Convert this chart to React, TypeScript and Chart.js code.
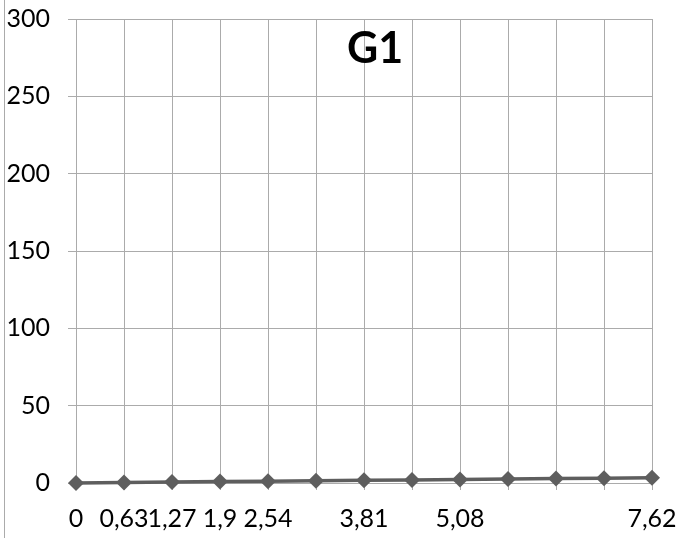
import React, { useEffect, useRef } from "react";
import { Chart, registerables } from "chart.js";

Chart.register(...registerables);

const title = "G1";
const categories = ["0", "0,63", "1,27", "1,9", "2,54", "3,17", "3,81", "4,45", "5,08", "5,72", "6,35", "6,99", "7,62"];
const shownLabels = ["0", "0,63", "1,27", "1,9", "2,54", "", "3,81", "", "5,08", "", "", "", "7,62"];
const seriesValues = [0, 0.3, 0.6, 0.9, 1.2, 1.4, 1.7, 2.0, 2.3, 2.6, 2.9, 3.1, 3.4];
const yMin = 0;
const yMax = 300;
const yStep = 50;

const GRID = "#ababab";
const SERIES = "#5e5e5e";
const FONT = "Lato, 'Liberation Sans', sans-serif";

export default function App() {
  const ref = useRef<HTMLCanvasElement | null>(null);

  useEffect(() => {
    if (!ref.current) return;
    const overlay = {
      id: "overlay",
      beforeDraw(chart: any) {
        const ctx = chart.ctx;
        ctx.save();
        ctx.strokeStyle = GRID;
        ctx.lineWidth = 1;
        ctx.beginPath();
        ctx.moveTo(4.5, 0);
        ctx.lineTo(4.5, chart.height);
        ctx.stroke();
        ctx.restore();
      },
      afterDraw(chart: any) {
        const ctx = chart.ctx;
        ctx.save();
        ctx.font = `bold 43px ${FONT}`;
        ctx.fillStyle = "#000";
        ctx.textAlign = "center";
        ctx.textBaseline = "middle";
        ctx.fillText(title, 375, 49);
        ctx.restore();
      },
    };
    const zeroPad = (s: any) => {
      s.paddingTop = 0;
      s.paddingBottom = 0;
      s.paddingLeft = 0;
      s.paddingRight = 0;
    };
    const chart = new Chart(ref.current, {
      type: "line",
      data: {
        labels: categories,
        datasets: [
          {
            label: title,
            data: seriesValues,
            borderColor: SERIES,
            backgroundColor: SERIES,
            borderWidth: 3.5,
            pointStyle: "rectRot",
            pointRadius: 8,
            pointBorderWidth: 0,
            pointBackgroundColor: SERIES,
            tension: 0,
            clip: false as any,
          },
        ],
      },
      options: {
        animation: false,
        responsive: false,
        maintainAspectRatio: false,
        layout: { padding: { top: 19, right: 24, left: 0, bottom: 0 } },
        plugins: {
          legend: { display: false },
          title: { display: false },
          tooltip: { enabled: false },
        },
        scales: {
          x: {
            type: "category",
            offset: false,
            afterFit: (s: any) => {
              s.height = 55;
              zeroPad(s);
            },
            grid: {
              color: GRID,
              lineWidth: 1,
              drawTicks: true,
              tickLength: 7,
              tickColor: GRID,
            },
            border: { color: GRID, width: 1 },
            ticks: {
              autoSkip: false,
              maxRotation: 0,
              minRotation: 0,
              padding: 14,
              color: "#000",
              font: { family: FONT, size: 25 },
              callback: (_v: any, i: number) => shownLabels[i],
            },
          },
          y: {
            min: yMin,
            max: yMax,
            afterFit: (s: any) => {
              s.width = 76;
              zeroPad(s);
            },
            grid: {
              color: GRID,
              lineWidth: 1,
              drawTicks: true,
              tickLength: 8,
              tickColor: GRID,
            },
            border: { color: GRID, width: 1 },
            ticks: {
              stepSize: yStep,
              padding: 18,
              color: "#000",
              font: { family: FONT, size: 25 },
            },
          },
        },
      },
      plugins: [overlay],
    });
    return () => chart.destroy();
  }, []);

  return (
    <div style={{ position: "fixed", left: 0, top: 0, width: 676, height: 538, background: "#fff" }}>
      <canvas ref={ref} width={676} height={538} style={{ width: 676, height: 538 }} />
    </div>
  );
}
